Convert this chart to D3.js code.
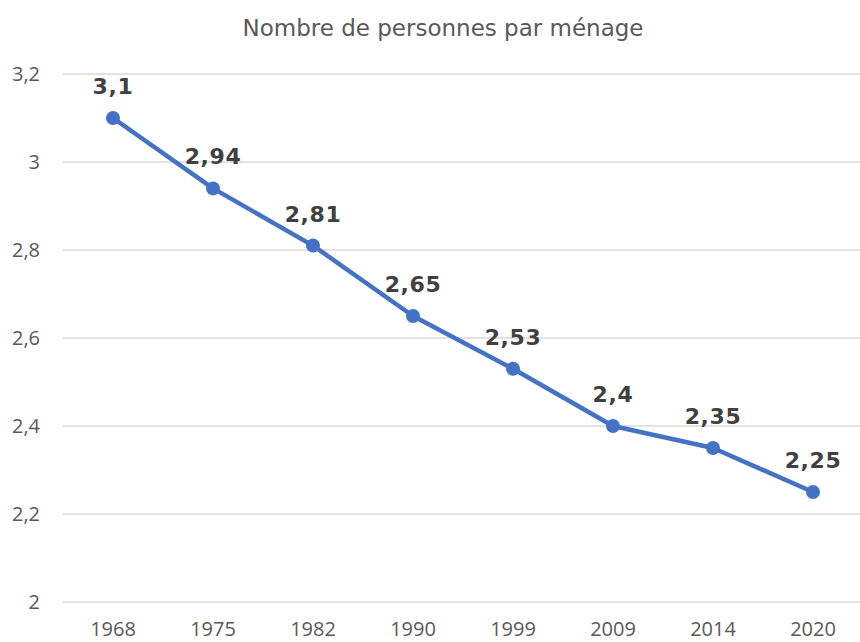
<!DOCTYPE html>
<html>
<head>
<meta charset="utf-8">
<script src="https://cdn.jsdelivr.net/npm/d3@7"></script>
<style>
    body { margin: 0; background: #fff; }
    .grid line { stroke: #d9d9d9; stroke-width: 1.3; }
    .tick-label { font-family: "Open Sans", sans-serif; font-size: 20px; fill: #595959; }
    .chart-title { font-family: "DejaVu Sans", sans-serif; font-size: 23px; fill: #595959; }
    .data-label { font-family: "DejaVu Sans", sans-serif; font-weight: bold; font-size: 22px; letter-spacing: 0.6px; fill: #404040; }
</style>
</head>
<body>
<div id="chart"></div>
<script>
const years = ["1968", "1975", "1982", "1990", "1999", "2009", "2014", "2020"];
const persons = [3.1, 2.94, 2.81, 2.65, 2.53, 2.4, 2.35, 2.25];
const yTicks = [2, 2.2, 2.4, 2.6, 2.8, 3, 3.2];

const width = 860, height = 642;
const margin = { top: 74, right: -3, bottom: 40, left: 63 };

const frNum = d => String(d).replace(".", ",");

const svg = d3.select("#chart").append("svg")
    .attr("width", width)
    .attr("height", height);

const x = d3.scalePoint()
    .domain(years)
    .range([margin.left, width - margin.right])
    .padding(0.5);

const y = d3.scaleLinear()
    .domain([2, 3.2])
    .range([height - margin.bottom, margin.top]);

svg.append("text")
    .attr("class", "chart-title")
    .attr("x", 443)
    .attr("y", 36)
    .attr("text-anchor", "middle")
    .text("Nombre de personnes par ménage");

// gridlines
svg.append("g")
    .attr("class", "grid")
    .selectAll("line")
    .data(yTicks)
    .enter().append("line")
    .attr("x1", margin.left)
    .attr("x2", width - margin.right)
    .attr("y1", d => y(d))
    .attr("y2", d => y(d));

// y tick labels
svg.append("g")
    .selectAll("text")
    .data(yTicks)
    .enter().append("text")
    .attr("class", "tick-label")
    .attr("x", 40)
    .attr("y", d => y(d))
    .attr("dy", "0.35em")
    .attr("text-anchor", "end")
    .text(d => frNum(d));

// x tick labels
svg.append("g")
    .selectAll("text")
    .data(years)
    .enter().append("text")
    .attr("class", "tick-label")
    .attr("x", d => x(d))
    .attr("y", height - margin.bottom + 34)
    .attr("text-anchor", "middle")
    .text(d => d);

const points = years.map((yr, i) => ({ year: yr, value: persons[i] }));

svg.append("path")
    .datum(points)
    .attr("fill", "none")
    .attr("stroke", "#4472c4")
    .attr("stroke-width", 4.5)
    .attr("stroke-linejoin", "round")
    .attr("d", d3.line().x(d => x(d.year)).y(d => y(d.value)));

svg.append("g")
    .selectAll("circle")
    .data(points)
    .enter().append("circle")
    .attr("cx", d => x(d.year))
    .attr("cy", d => y(d.value))
    .attr("r", 7)
    .attr("fill", "#4472c4");

svg.append("g")
    .selectAll("text")
    .data(points)
    .enter().append("text")
    .attr("class", "data-label")
    .attr("x", d => x(d.year))
    .attr("y", d => y(d.value) - 24)
    .attr("text-anchor", "middle")
    .text(d => frNum(d.value));
</script>
</body>
</html>
